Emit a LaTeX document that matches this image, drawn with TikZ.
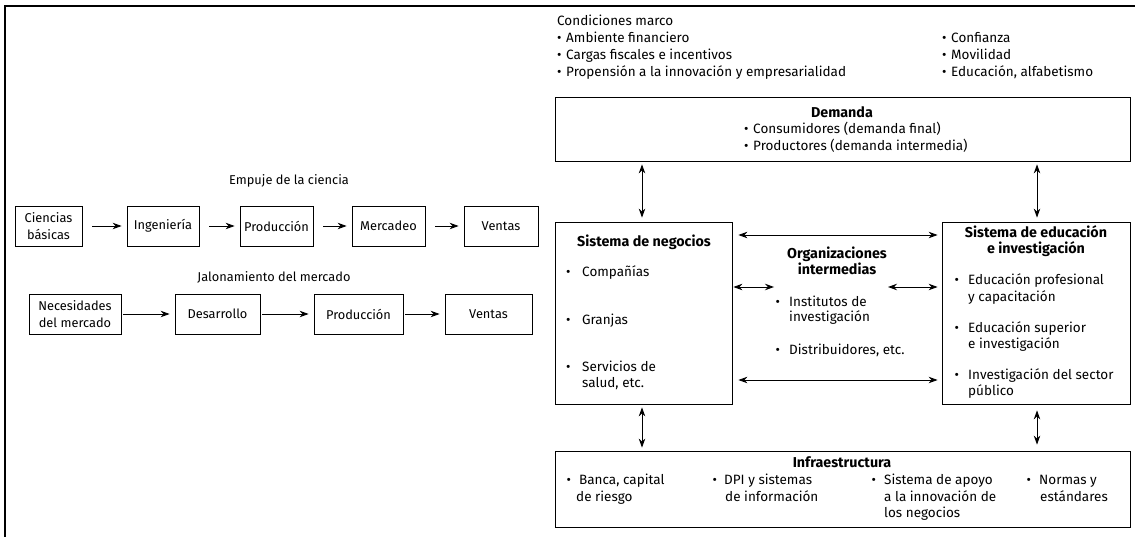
\documentclass[tikz,border=0pt]{standalone}
\usepackage{fontspec}
\setmainfont{Fira Sans}
\usetikzlibrary{arrows.meta}
\newcommand{\bul}[1]{\makebox[#1][l]{\textbullet}}
\tikzset{
  frameline/.style={line width=1.6pt},
  bx/.style={draw, line width=0.8pt, inner sep=0pt, align=center},
  lbx/.style={bx, font=\fontsize{12.8}{17.5}\selectfont, minimum height=40pt},
  tl/.style={anchor=base west, inner sep=0pt},
  tc/.style={anchor=base, inner sep=0pt, font=\fontsize{12.8}{17}\selectfont},
  ttl/.style={anchor=base, inner sep=0pt, font=\fontsize{14.3}{17}\selectfont\bfseries},
  ar/.style={line width=0.9pt, -{Stealth[length=9pt,width=6.5pt]}},
  dar/.style={line width=0.9pt, {Stealth[length=9pt,width=6.5pt]}-{Stealth[length=9pt,width=6.5pt]}},
}
\begin{document}
\fontsize{13.5}{17}\selectfont
\begin{tikzpicture}[x=1pt,y=-1pt]
\useasboundingbox (0,0) rectangle (1135,537);
\draw[frameline] (5,537) -- (5,6) -- (1135,6);

% ---------- left: linear models ----------
\node[tc] (empuje) at (289,184.5) {Empuje de la ciencia};
\node[lbx, minimum width=67pt] (c1) at (48.5,226) {Ciencias\\básicas};
\node[lbx, minimum width=72pt] (c2) at (163,226) {Ingeniería};
\node[lbx, minimum width=73pt] (c3) at (276.5,226) {Producción};
\node[lbx, minimum width=73pt] (c4) at (388.5,226) {Mercadeo};
\node[lbx, minimum width=74pt] (c5) at (501,226) {Ventas};
\foreach \a/\b in {c1/c2,c2/c3,c3/c4,c4/c5}
  \draw[ar, shorten <=10pt, shorten >=5pt] (\a.east) -- (\b.west);

\node[tc] (jalon) at (274,281.5) {Jalonamiento del mercado};
\node[lbx, minimum width=92pt] (d1) at (75,314) {Necesidades\\del mercado};
\node[lbx, minimum width=85pt] (d2) at (217.5,314) {Desarrollo};
\node[lbx, minimum width=89pt] (d3) at (358.5,314) {Producción};
\node[lbx, minimum width=87pt] (d4) at (488.5,314) {Ventas};
\foreach \a/\b in {d1/d2,d2/d3,d3/d4}
  \draw[ar, shorten <=2pt, shorten >=5pt] (\a.east) -- (\b.west);

% ---------- right: system ----------
\node[tl] (cm) at (557,26) {Condiciones marco};
\node[tl] (cm1) at (557,43) {\bul{9pt}Ambiente financiero};
\node[tl] (cm2) at (557,60) {\bul{9pt}Cargas fiscales e incentivos};
\node[tl] (cm3) at (557,77) {\bul{9pt}Propensión a la innovación y empresarialidad};
\node[tl] (cm4) at (942,43) {\bul{9pt}Confianza};
\node[tl] (cm5) at (942,60) {\bul{9pt}Movilidad};
\node[tl] (cm6) at (942,77) {\bul{9pt}Educación, alfabetismo};

\node[bx, minimum width=575pt, minimum height=64pt] (dem) at (842.5,129) {};
\node[ttl] (demt) at (842,117.5) {Demanda};
\node[tl] (dem1) at (744,133.5) {\bul{9pt}Consumidores (demanda final)};
\node[tl] (dem2) at (744,150.5) {\bul{9pt}Productores (demanda intermedia)};

\node[bx, minimum width=177pt, minimum height=182pt] (neg) at (643.5,313) {};
\node[ttl] (negt) at (644,246.5) {Sistema de negocios};
\node[tl] (neg1) at (566,276.5) {\bul{16pt}Compañías};
\node[tl] (neg2) at (566,324.5) {\bul{16pt}Granjas};
\node[tl] (neg3) at (566,371.5) {\bul{16pt}Servicios de};
\node[tl] (neg4) at (582,387.5) {salud, etc.};

\node[ttl] (orgt1) at (837,258.5) {Organizaciones};
\node[ttl] (orgt2) at (837,274.5) {intermedias};
\node[tl] (org1) at (775.5,306.5) {\bul{13.5pt}Institutos de};
\node[tl] (org2) at (789,321.5) {investigación};
\node[tl] (org3) at (775.5,354.5) {\bul{13.5pt}Distribuidores, etc.};

\node[bx, minimum width=188pt, minimum height=182pt] (edu) at (1036,313) {};
\node[ttl] (edut1) at (1036,237.5) {Sistema de educación};
\node[ttl] (edut2) at (1036,253.5) {e investigación};
\node[tl] (edu1) at (954.5,284.5) {\bul{13.5pt}Educación profesional};
\node[tl] (edu2) at (968,301.5) {y capacitación};
\node[tl] (edu3) at (954.5,332.5) {\bul{13.5pt}Educación superior};
\node[tl] (edu4) at (968,348.5) {e investigación};
\node[tl] (edu5) at (954.5,379.5) {\bul{13.5pt}Investigación del sector};
\node[tl] (edu6) at (968,395.5) {público};

\node[bx, minimum width=575pt, minimum height=76pt] (inf) at (842.5,489) {};
\node[ttl] (inft) at (842,467.5) {Infraestructura};
\node[tl] (inf1) at (566.5,484.5) {\bul{12.5pt}Banca, capital};
\node[tl] (inf2) at (576,501.5) {de riesgo};
\node[tl] (inf3) at (712.5,484.5) {\bul{11.5pt}DPI y sistemas};
\node[tl] (inf4) at (725,501.5) {de información};
\node[tl] (inf5) at (871.5,484.5) {\bul{12.5pt}Sistema de apoyo};
\node[tl] (inf6) at (884,501.5) {a la innovación de};
\node[tl] (inf7) at (884,517.5) {los negocios};
\node[tl] (inf8) at (1026.5,484.5) {\bul{12.5pt}Normas y};
\node[tl] (inf9) at (1040,501.5) {estándares};

% connectors
\coordinate (xl) at (642,0);
\coordinate (xr) at (1037,0);
\coordinate (yt) at (0,235);
\coordinate (ym) at (0,287);
\coordinate (yb) at (0,380);
\coordinate (ml) at (774,287);
\coordinate (mr) at (888,287);

\draw[dar, shorten <=3pt, shorten >=4pt] (dem.south -| xl) -- (neg.north -| xl);
\draw[dar, shorten <=3pt, shorten >=4pt] (dem.south -| xr) -- (edu.north -| xr);
\draw[dar, shorten <=6pt, shorten >=4pt] (neg.east |- yt) -- (edu.west |- yt);
\draw[dar, shorten <=1pt] (neg.east |- ym) -- (ml);
\draw[dar, shorten >=4pt] (mr) -- (edu.west |- ym);
\draw[dar, shorten <=6pt, shorten >=4pt] (neg.east |- yb) -- (edu.west |- yb);
\draw[dar, shorten <=3pt, shorten >=3pt] (neg.south -| xl) -- (inf.north -| xl);
\draw[dar, shorten <=6pt, shorten >=6pt] (edu.south -| xr) -- (inf.north -| xr);
\end{tikzpicture}
\end{document}
